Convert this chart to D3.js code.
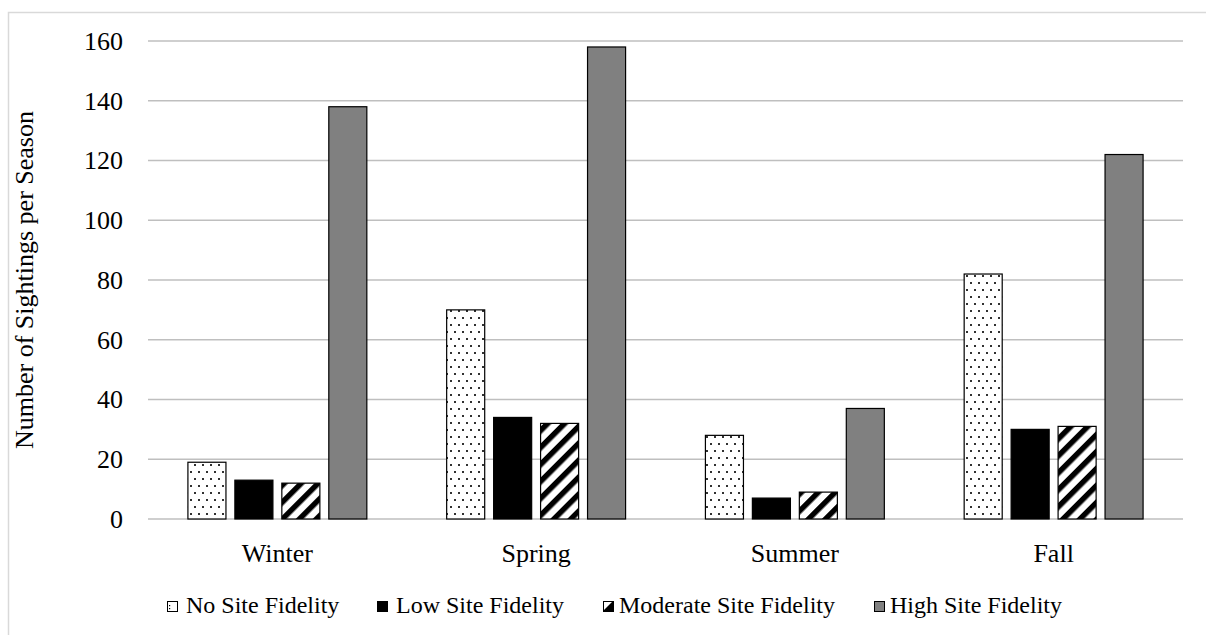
<!DOCTYPE html>
<html>
<head>
<meta charset="utf-8">
<script src="https://cdn.jsdelivr.net/npm/d3@7"></script>
<style>
  html, body { margin: 0; padding: 0; background: #fff; }
  svg { display: block; }
  svg text { font-family: "Liberation Serif", "Times New Roman", serif; }
</style>
</head>
<body>
<svg id="chart" width="1206" height="635"></svg>
<script>
const seasons = ["Winter", "Spring", "Summer", "Fall"];
const seriesNames = ["No Site Fidelity", "Low Site Fidelity", "Moderate Site Fidelity", "High Site Fidelity"];
const noSite = [19, 70, 28, 82];
const lowSite = [13, 34, 7, 30];
const moderateSite = [12, 32, 9, 31];
const highSite = [138, 158, 37, 122];
const yTicks = [0, 20, 40, 60, 80, 100, 120, 140, 160];

(function () {
const FONT = "Liberation Serif, Times New Roman, serif";
const seriesValues = [noSite, lowSite, moderateSite, highSite];
const fills = ["url(#dots)", "#000000", "url(#hatch)", "#808080"];

const svg = d3.select("#chart");
const defs = svg.append("defs");

// dotted pattern
const dots = defs.append("pattern").attr("id", "dots")
  .attr("patternUnits", "userSpaceOnUse").attr("width", 16).attr("height", 14);
dots.append("rect").attr("width", 16).attr("height", 14).attr("fill", "#fff");
[[3, 3], [11, 3], [7, 10], [15, 10]].forEach(([x, y]) => {
  dots.append("rect").attr("x", x - 0.9).attr("y", y - 0.9).attr("width", 1.8).attr("height", 1.8).attr("fill", "#000");
});

// hatch pattern
const hatch = defs.append("pattern").attr("id", "hatch")
  .attr("patternUnits", "userSpaceOnUse").attr("width", 12).attr("height", 12)
  .attr("patternTransform", "rotate(45)");
hatch.append("rect").attr("width", 12).attr("height", 12).attr("fill", "#fff");
hatch.append("rect").attr("x", 0).attr("y", 0).attr("width", 5.5).attr("height", 12).attr("fill", "#000");

const hs = defs.append("pattern").attr("id", "hatchSmall")
  .attr("patternUnits", "userSpaceOnUse").attr("width", 10).attr("height", 10);
hs.append("rect").attr("width", 10).attr("height", 10).attr("fill", "#fff");
hs.append("path").attr("d", "M0,10 L10,0 L10,10 Z").attr("fill", "#000");

// outer border
svg.append("rect").attr("x", 8.5).attr("y", 12.5).attr("width", 1210).attr("height", 640)
  .attr("fill", "none").attr("stroke", "#d9d9d9").attr("stroke-width", 1.5);

const pLeft = 148, pRight = 1183, pTop = 41, pBottom = 519;

const x0 = d3.scaleBand().domain(seasons).range([pLeft, pRight]).padding(0);
const x1 = d3.scaleBand().domain(seriesNames).range([0, x0.bandwidth()])
  .paddingInner(0.19).paddingOuter(0.85);
const y = d3.scaleLinear().domain([0, 160]).range([pBottom, pTop]);

// gridlines
svg.append("g").selectAll("line").data(yTicks).join("line")
  .attr("x1", pLeft).attr("x2", pRight)
  .attr("y1", d => y(d)).attr("y2", d => y(d))
  .attr("stroke", "#bfbfbf").attr("stroke-width", 1.5);

// y tick labels
const yAxis = d3.axisLeft(y).tickValues(yTicks).tickSize(0).tickPadding(0);
const yg = svg.append("g").attr("transform", `translate(${123},0)`).call(yAxis);
yg.select(".domain").remove();
yg.attr("font-family", FONT).attr("font-size", 26);
yg.selectAll("text").attr("fill", "#000");

// bars
seriesNames.forEach((name, si) => {
  svg.append("g").selectAll("rect").data(seasons).join("rect")
    .attr("x", (d) => x0(d) + x1(name))
    .attr("y", (d, i) => y(seriesValues[si][i]))
    .attr("width", x1.bandwidth())
    .attr("height", (d, i) => y(0) - y(seriesValues[si][i]))
    .attr("fill", fills[si])
    .attr("stroke", "#000").attr("stroke-width", 1.2);
});

// x category labels
const xAxis = d3.axisBottom(x0).tickSize(0).tickPadding(0);
const xg = svg.append("g").attr("transform", `translate(0,${pBottom})`).call(xAxis);
xg.select(".domain").remove();
xg.attr("font-family", FONT).attr("font-size", 26);
xg.selectAll("text").attr("fill", "#000").attr("dy", 0).attr("y", 43);

// y label
svg.append("text")
  .attr("transform", `translate(33,${(pTop + pBottom) / 2}) rotate(-90)`)
  .attr("text-anchor", "middle").attr("font-family", FONT).attr("font-size", 26).attr("fill", "#000")
  .text("Number of Sightings per Season");

// legend
const legendX = [167, 377, 603, 874];
const legendFills = ["#fff", "#000", "url(#hatchSmall)", "#808080"];

const lg = svg.append("g").attr("font-family", FONT);
seriesNames.forEach((name, i) => {
  const g = lg.append("g").attr("transform", `translate(${legendX[i]},601)`);
  g.append("rect").attr("x", 0.5).attr("y", 0.5).attr("width", 10).attr("height", 10)
    .attr("fill", legendFills[i]).attr("stroke", "#000").attr("stroke-width", 1);
  if (i === 0) {
    g.append("rect").attr("x", 2).attr("y", 4).attr("width", 1.2).attr("height", 1.2).attr("fill", "#000");
    g.append("rect").attr("x", 2).attr("y", 7).attr("width", 1.2).attr("height", 1.2).attr("fill", "#000");
  }
  g.append("text").attr("x", i >= 2 ? 16 : 19).attr("y", 12)
    .attr("font-family", FONT).attr("font-size", 24).attr("fill", "#000").text(name);
});
})();
</script>
</body>
</html>
